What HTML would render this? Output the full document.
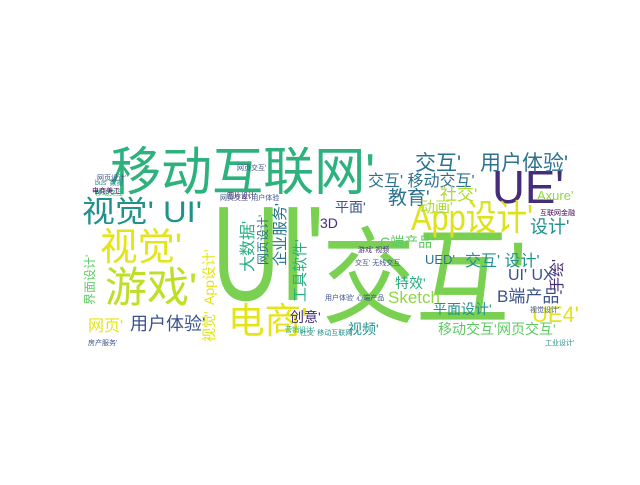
<!DOCTYPE html>
<html><head><meta charset="utf-8"><style>
html,body{margin:0;padding:0;background:#fff;}
svg text{font-family:"Liberation Sans","Noto Sans CJK SC",sans-serif;}
</style></head><body>
<svg width="640" height="480" viewBox="0 0 640 480">
<rect width="640" height="480" fill="#fff"/>
<g>
<text x="110" y="190" font-size="52" fill="#2db27d" textLength="265" lengthAdjust="spacingAndGlyphs">移动互联网'</text>
<text x="212" y="300" font-size="135" fill="#7ad151" textLength="112" lengthAdjust="spacingAndGlyphs">UI'</text>
<text x="322" y="315" font-size="105" fill="#7ad151" textLength="205" lengthAdjust="spacingAndGlyphs">交互'</text>
<text x="492" y="203" font-size="46" fill="#472c7a" textLength="72" lengthAdjust="spacingAndGlyphs">UE'</text>
<text x="411" y="230" font-size="36" fill="#dde318" textLength="122" lengthAdjust="spacingAndGlyphs">App设计'</text>
<text x="82" y="222" font-size="30" fill="#21918c" textLength="120" lengthAdjust="spacingAndGlyphs">视觉' UI'</text>
<text x="100" y="260" font-size="38" fill="#e5e419" textLength="82" lengthAdjust="spacingAndGlyphs">视觉'</text>
<text x="105" y="302" font-size="42" fill="#bddf26" textLength="92" lengthAdjust="spacingAndGlyphs">游戏'</text>
<text x="228" y="333" font-size="36" fill="#e5e419" textLength="80" lengthAdjust="spacingAndGlyphs">电商'</text>
<text x="415" y="170" font-size="21" fill="#2c728e">交互'</text>
<text x="480" y="170" font-size="21" fill="#2c728e">用户体验'</text>
<text x="368" y="186" font-size="16" fill="#2c728e">交互'  移动交互'</text>
<text x="388" y="204" font-size="19" fill="#2c728e">教育'</text>
<text x="440" y="200" font-size="17" fill="#addc30">社交'</text>
<text x="335" y="212" font-size="14" fill="#3b528b">平面'</text>
<text x="420" y="212" font-size="15" fill="#addc30">动画'</text>
<text x="537" y="200" font-size="13" fill="#90d743">Axure'</text>
<text x="530" y="233" font-size="18" fill="#21918c">设计'</text>
<text x="320" y="228" font-size="14" fill="#472c7a">3D</text>
<text x="380" y="247" font-size="14" fill="#5ec962">C端产品'</text>
<text x="425" y="264" font-size="13" fill="#2c728e">UED'</text>
<text x="465" y="266" font-size="16" fill="#21918c">交互' 设计'</text>
<text x="508" y="280" font-size="16" fill="#3b528b">UI' UX'</text>
<text x="395" y="288" font-size="14" fill="#28ae80">特效'</text>
<text x="388" y="303" font-size="17" fill="#90d743">Sketch'</text>
<text x="497" y="302" font-size="17" fill="#3b528b">B端产品'</text>
<text x="532" y="322" font-size="22" fill="#e5e419">UE4'</text>
<text x="433" y="314" font-size="14" fill="#21918c">平面设计'</text>
<text x="438" y="334" font-size="14" fill="#5ec962">移动交互'</text>
<text x="497" y="334" font-size="14" fill="#5ec962">网页交互'</text>
<text x="348" y="334" font-size="14" fill="#21918c">视频'</text>
<text x="290" y="322" font-size="14" fill="#472c7a">创意'</text>
<text x="130" y="330" font-size="18" fill="#3b528b">用户体验'</text>
<text x="88" y="331" font-size="16" fill="#e5e419">网页'</text>
<text transform="translate(285,266) rotate(-90)" font-size="15" fill="#2c728e">企业服务'</text>
<text transform="translate(305,302) rotate(-90)" font-size="15" fill="#28ae80">工具软件'</text>
<text transform="translate(253,272) rotate(-90)" font-size="16" fill="#28ae80">大数据'</text>
<text transform="translate(267,265) rotate(-90)" font-size="12" fill="#2c728e">网页设计'</text>
<text transform="translate(214,305) rotate(-90)" font-size="14" fill="#e5e419">App设计'</text>
<text transform="translate(214,342) rotate(-90)" font-size="14" fill="#dde318">视觉'</text>
<text transform="translate(94,305) rotate(-90)" font-size="12" fill="#5ec962">界面设计'</text>
<text transform="translate(562,292) rotate(-90)" font-size="15" fill="#472c7a">手绘'</text>
<text x="358" y="252" font-size="7" fill="#472c7a">游戏' 视频</text>
<text x="355" y="265" font-size="7" fill="#3b528b">交互' 无线交互</text>
<text x="97" y="180" font-size="7" fill="#3b528b">网页设计'</text>
<text x="95" y="195" font-size="7" fill="#28ae80">移动交互</text>
<text x="95" y="185" font-size="7" fill="#21918c">bus' 数据</text>
<text x="237" y="170" font-size="7" fill="#3b528b">网页交互'</text>
<text x="227" y="198" font-size="7" fill="#440154">图片设计'</text>
<text x="92" y="193" font-size="7" fill="#440154">电商美工</text>
<text x="220" y="200" font-size="7" fill="#3b528b">网页交互' 用户体验</text>
<text x="540" y="215" font-size="7" fill="#440154">互联网金融</text>
<text x="285" y="332" font-size="7" fill="#28ae80">营销设计'</text>
<text x="300" y="335" font-size="7" fill="#21918c">社交' 移动互联网</text>
<text x="325" y="300" font-size="7" fill="#3b528b">用户体验' 心端产品</text>
<text x="530" y="312" font-size="7" fill="#3b528b">视觉设计'</text>
<text x="545" y="345" font-size="7" fill="#21918c">工业设计'</text>
<text x="88" y="345" font-size="7" fill="#3b528b">房产服务'</text>
</g>
</svg>
</body></html>
